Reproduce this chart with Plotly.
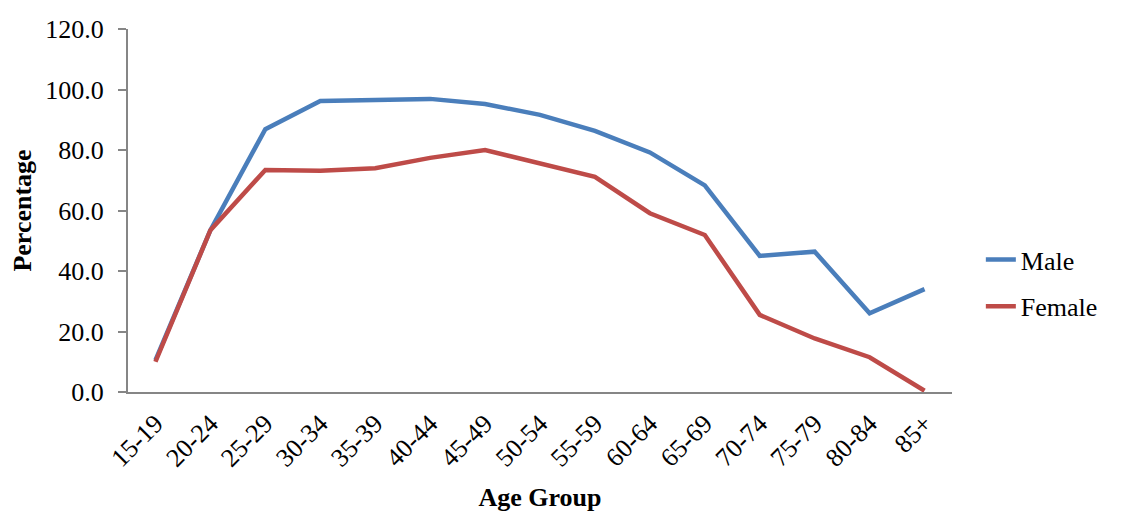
import plotly.graph_objects as go

age_groups = ["15-19", "20-24", "25-29", "30-34", "35-39", "40-44", "45-49", "50-54",
              "55-59", "60-64", "65-69", "70-74", "75-79", "80-84", "85+"]
male = [10.5, 53.5, 86.9, 96.2, 96.5, 96.9, 95.2, 91.6, 86.3, 79.2, 68.3, 45.0, 46.4, 26.0, 34.0]
female = [10.0, 53.5, 73.4, 73.1, 74.0, 77.4, 80.0, 75.7, 71.1, 59.1, 51.9, 25.5, 17.7, 11.5, 0.4]
y_ticks = [0, 20, 40, 60, 80, 100, 120]

font_family = "Liberation Serif, Times New Roman, serif"
axis_color = "#868686"
fs = 26

fig = go.Figure()
fig.add_trace(go.Scatter(x=age_groups, y=male, mode="lines", name="Male", legendgroup="m",
                         line=dict(color="#4A7EBB", width=4.5)))
fig.add_trace(go.Scatter(x=age_groups, y=female, mode="lines", name="Female", legendgroup="f",
                         line=dict(color="#BE4B48", width=4.5)))

fig.update_layout(
    width=1113, height=504,
    margin=dict(l=120, r=169, t=21, b=120),
    paper_bgcolor="white", plot_bgcolor="white",
    font=dict(family=font_family, size=fs, color="black"),
    showlegend=True,
    legend=dict(x=1.035, y=0.30, yanchor="middle", xanchor="left",
                font=dict(size=fs, family=font_family), tracegroupgap=10,
                traceorder="grouped", itemwidth=30, bgcolor="rgba(0,0,0,0)"),
    xaxis=dict(
        type="category", range=[-0.5, 14.5], automargin=False,
        showline=True, linecolor=axis_color, linewidth=2,
        showgrid=False, ticks="", tickangle=-45, ticklabelstandoff=4,
        tickfont=dict(size=fs, family=font_family),
        title=dict(text="<b>Age Group</b>", font=dict(size=fs, family=font_family), standoff=18),
    ),
    yaxis=dict(
        range=[0, 120], tickvals=y_ticks, automargin=False,
        ticktext=[f"{v:.1f}" for v in y_ticks],
        showline=True, linecolor=axis_color, linewidth=2,
        showgrid=False, ticks="outside", ticklen=8, tickcolor=axis_color, tickwidth=2,
        ticklabelstandoff=9,
        tickfont=dict(size=fs, family=font_family),
        title=dict(text="<b>Percentage</b>", font=dict(size=fs, family=font_family), standoff=8),
        zeroline=False,
    ),
)

fig.write_html("out.html")
